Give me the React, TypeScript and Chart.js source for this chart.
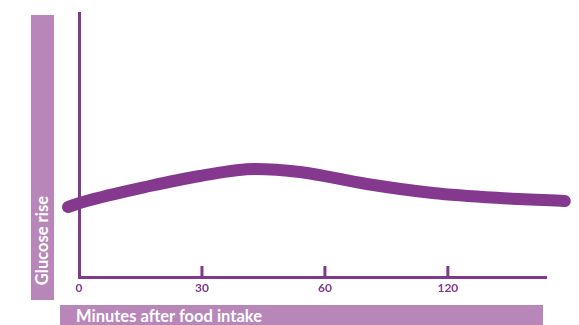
import React, { useEffect, useRef } from "react";
import { Chart, registerables } from "chart.js";
Chart.register(...registerables);

// Tick positions (index units along the time axis) and their labels
const tickPositions = [0, 1, 2, 3];
const tickLabels = ["0", "30", "60", "120"];
// Glucose curve (x in tick-index units, y in arbitrary rise units)
const curveX = [-0.089, 0.033, 0.577, 0.984, 1.431, 1.797, 2.341, 2.878, 3.423, 3.951];
const curveY = [70, 75, 91, 101, 108, 105, 93, 84, 79, 76];
const xMax = 3.79;
const yMax = 264;

const yTitle = "Glucose rise";
const xTitle = "Minutes after food intake";

const LINE = "#84398f";
const AXIS = "#80398d";
const BAND = "#b886b8";
const FONT = "Lato, 'Open Sans', sans-serif";

const innerTicks = {
  id: "innerTicks",
  afterDatasetsDraw(chart: any) {
    const xs = chart.scales.x;
    const { ctx, chartArea } = chart;
    ctx.save();
    ctx.strokeStyle = AXIS;
    ctx.lineWidth = 3;
    tickPositions.slice(1).forEach((v) => {
      const px = xs.getPixelForValue(v);
      ctx.beginPath();
      ctx.moveTo(px, chartArea.bottom);
      ctx.lineTo(px, chartArea.bottom - 11);
      ctx.stroke();
    });
    ctx.restore();
  },
};

export default function App() {
  const ref = useRef<HTMLCanvasElement>(null);
  useEffect(() => {
    if (!ref.current) return;
    const chart = new Chart(ref.current, {
      type: "line",
      data: {
        datasets: [
          {
            data: curveX.map((x, i) => ({ x, y: curveY[i] })),
            borderColor: LINE,
            borderWidth: 12,
            borderCapStyle: "round",
            borderJoinStyle: "round",
            pointRadius: 0,
            cubicInterpolationMode: "monotone",
            clip: false,
          } as any,
        ],
      },
      options: {
        animation: false,
        responsive: false,
        maintainAspectRatio: false,
        layout: { padding: { top: 13, left: 79, right: 34, bottom: 28 } },
        plugins: { legend: { display: false }, tooltip: { enabled: false } },
        scales: {
          x: {
            type: "linear",
            min: 0,
            max: xMax,
            afterFit: (s: any) => {
              s.height = 20;
            },
            afterBuildTicks: (s: any) => {
              s.ticks = tickPositions.map((v) => ({ value: v }));
            },
            grid: { drawOnChartArea: false, drawTicks: false, color: "transparent", lineWidth: 3 },
            border: { display: true, color: AXIS, width: 3 },
            ticks: {
              padding: 4,
              color: AXIS,
              font: { family: FONT, size: 12, weight: "bold" },
              callback: (v: any) => {
                const i = tickPositions.indexOf(Number(v));
                return i >= 0 ? tickLabels[i] : "";
              },
              maxRotation: 0,
            },
          },
          y: {
            type: "linear",
            min: 0,
            max: yMax,
            afterFit: (s: any) => {
              s.width = 0;
            },
            grid: { drawOnChartArea: false, drawTicks: false, color: "transparent" },
            border: { display: true, color: AXIS, width: 3 },
            ticks: { display: false },
          },
        },
      } as any,
      plugins: [innerTicks],
    });
    return () => chart.destroy();
  }, []);

  return (
    <div style={{ position: "fixed", left: 0, top: 0, width: 579, height: 325, background: "#fff", overflow: "hidden" }}>
      <canvas ref={ref} width={579} height={325} style={{ position: "absolute", left: 0, top: 0 }} />
      <div
        style={{
          position: "absolute",
          left: 31,
          top: 15,
          width: 23,
          height: 285,
          background: BAND,
          display: "flex",
          justifyContent: "center",
          alignItems: "flex-end",
          boxSizing: "border-box",
          paddingBottom: 15,
        }}
      >
        <div
          style={{
            writingMode: "vertical-rl",
            transform: "rotate(180deg)",
            color: "#fff",
            fontFamily: FONT,
            fontWeight: 700,
            fontSize: 16.5,
            lineHeight: "23px",
            whiteSpace: "nowrap",
          }}
        >
          {yTitle}
        </div>
      </div>
      <div
        style={{
          position: "absolute",
          left: 60,
          top: 305,
          width: 483,
          height: 20,
          background: BAND,
          color: "#fff",
          fontFamily: FONT,
          fontWeight: 700,
          fontSize: 16.5,
          lineHeight: "22px",
          paddingLeft: 16,
          boxSizing: "border-box",
          whiteSpace: "nowrap",
        }}
      >
        {xTitle}
      </div>
    </div>
  );
}
